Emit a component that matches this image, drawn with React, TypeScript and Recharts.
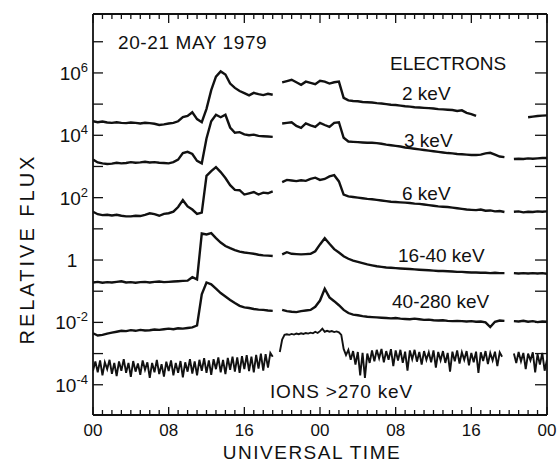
import { Line, LineChart, XAxis, YAxis } from 'recharts'

const FONT = '"Liberation Sans", Arial, sans-serif'

// sampling grids (hours UT from 00 on 20 May)
const HOURS = Array.from({ length: 97 }, (_, i) => i / 2)
const ION_HOURS = Array.from({ length: 193 }, (_, i) => i / 4)

// log10 of relative flux, every half hour, null = data gap
const E2_KEV = [
  4.45, 4.42, 4.44, 4.41, 4.40, 4.42, 4.40, 4.39,
  4.41, 4.40, 4.38, 4.40, 4.39, 4.37, 4.33, 4.35,
  4.38, 4.40, 4.45, 4.58, 4.62, 4.74, 4.52, 4.42,
  4.85, 5.45, 5.88, 6.05, 5.95, 5.66, 5.52, 5.42,
  5.35, 5.28, 5.36, 5.32, 5.29, 5.33, 5.30, null,
  5.70, 5.74, 5.78, 5.70, 5.62, 5.72, 5.68, 5.64,
  5.75, 5.72, 5.66, 5.70, 5.72, 5.20, 5.12, 5.10,
  5.09, 5.07, 5.06, 5.05, 5.03, 5.02, 5.00, 4.98,
  4.97, 4.95, 4.93, 4.92, 4.90, 4.89, 4.88, 4.87,
  4.86, 4.84, 4.83, 4.82, 4.81, 4.78, 4.80, 4.72,
  4.68, 4.62, null, null, null, null, null, null,
  null, null, null, null, 4.58, 4.60, 4.62, 4.63,
  4.64,
]

const E3_KEV = [
  3.22, 3.13, 3.10, 3.08, 3.09, 3.12, 3.10, 3.11,
  3.14, 3.12, 3.13, 3.15, 3.13, 3.14, 3.12, 3.11,
  3.10, 3.14, 3.22, 3.43, 3.47, 3.40, 3.18, 3.10,
  3.90, 4.45, 4.66, 4.58, 4.66, 4.25, 4.08, 4.10,
  4.03, 4.00, 4.02, 3.98, 3.97, 3.96, 3.95, null,
  4.38, 4.40, 4.42, 4.30, 4.24, 4.38, 4.32, 4.27,
  4.40, 4.33, 4.27, 4.40, 4.42, 3.92, 3.80, 3.79,
  3.78, 3.77, 3.76, 3.76, 3.75, 3.73, 3.70, 3.68,
  3.66, 3.64, 3.61, 3.59, 3.57, 3.55, 3.53, 3.51,
  3.49, 3.47, 3.45, 3.43, 3.42, 3.40, 3.39, 3.38,
  3.37, 3.37, 3.38, 3.42, 3.44, 3.38, 3.32, 3.30,
  null, 3.24, 3.25, 3.24, 3.26, 3.25, 3.26, 3.27,
  3.27,
]

const E6_KEV = [
  1.55, 1.47, 1.44, 1.45, 1.43, 1.45, 1.42, 1.40,
  1.40, 1.42, 1.41, 1.45, 1.50, 1.47, 1.42, 1.48,
  1.50, 1.55, 1.70, 1.92, 1.72, 1.62, 1.48, 1.52,
  2.70, 2.85, 2.98, 2.82, 2.63, 2.40, 2.25, 2.24,
  2.10, 2.14, 2.18, 2.10, 2.16, 2.14, 2.20, null,
  2.50, 2.57, 2.55, 2.53, 2.56, 2.54, 2.60, 2.64,
  2.57, 2.60, 2.68, 2.72, 2.52, 2.10, 2.04, 2.02,
  2.00, 1.98, 1.96, 1.95, 1.93, 1.91, 1.89, 1.87,
  1.86, 1.85, 1.84, 1.83, 1.81, 1.80, 1.78, 1.76,
  1.74, 1.72, 1.71, 1.70, 1.68, 1.66, 1.64, 1.62,
  1.61, 1.60, 1.62, 1.58, 1.59, 1.56, 1.57, 1.54,
  null, 1.55, 1.56, 1.53, 1.55, 1.54, 1.56, 1.55,
  1.56,
]

const E16_40_KEV = [
  -0.72, -0.70, -0.73, -0.71, -0.72, -0.70, -0.68, -0.72,
  -0.71, -0.73, -0.71, -0.70, -0.72, -0.70, -0.69, -0.71,
  -0.70, -0.69, -0.68, -0.67, -0.66, -0.55, -0.62, 0.85,
  0.82, 0.86, 0.70, 0.56, 0.45, 0.38, 0.32, 0.27,
  0.24, 0.22, 0.20, 0.17, 0.15, 0.14, 0.13, null,
  0.18, 0.25, 0.20, 0.19, 0.18, 0.19, 0.20, 0.28,
  0.50, 0.70, 0.52, 0.35, 0.24, 0.12, 0.04, -0.02,
  -0.06, -0.10, -0.14, -0.17, -0.20, -0.22, -0.24, -0.25,
  -0.26, -0.27, -0.28, -0.29, -0.30, -0.31, -0.32, -0.33,
  -0.34, -0.35, -0.35, -0.36, -0.37, -0.38, -0.38, -0.39,
  -0.40, -0.40, -0.41, -0.41, -0.42, -0.41, -0.42, -0.42,
  null, -0.42, -0.43, -0.42, -0.43, -0.42, -0.43, -0.42,
  -0.44,
]

const E40_280_KEV = [
  -2.35, -2.42, -2.40, -2.36, -2.33, -2.30, -2.27, -2.28,
  -2.25, -2.27, -2.24, -2.26, -2.25, -2.23, -2.24, -2.22,
  -2.20, -2.22, -2.19, -2.20, -2.18, -2.16, -2.10, -1.10,
  -0.72, -0.78, -0.92, -1.06, -1.17, -1.28, -1.38, -1.47,
  -1.52, -1.54, -1.57, -1.59, -1.60, -1.62, -1.63, null,
  -1.60, -1.64, -1.66, -1.67, -1.64, -1.62, -1.60, -1.50,
  -1.30, -0.92, -1.20, -1.32, -1.45, -1.60, -1.70, -1.75,
  -1.77, -1.80, -1.82, -1.83, -1.84, -1.85, -1.86, -1.87,
  -1.86, -1.88, -1.89, -1.90, -1.88, -1.90, -1.92, -1.91,
  -1.93, -1.94, -1.93, -1.95, -1.96, -1.95, -1.96, -1.97,
  -1.96, -1.98, -1.97, -2.00, -2.15, -1.98, -1.94, -1.95,
  null, -1.96, -1.97, -1.95, -1.98, -1.96, -1.99, -1.97,
  -1.98,
]

// ions > 270 keV, every quarter hour (noisy trace)
const IONS_270_KEV = [
  -3.55, -3.25, -3.60, -3.22, -3.70, -3.28, -3.50, -3.20,
  -3.65, -3.30, -3.72, -3.25, -3.55, -3.18, -3.62, -3.30,
  -3.75, -3.24, -3.58, -3.32, -3.68, -3.22, -3.52, -3.28,
  -3.78, -3.30, -3.60, -3.20, -3.66, -3.34, -3.74, -3.26,
  -3.56, -3.22, -3.70, -3.30, -3.62, -3.24, -3.76, -3.28,
  -3.58, -3.18, -3.64, -3.25, -3.70, -3.20, -3.55, -3.15,
  -3.62, -3.22, -3.68, -3.18, -3.50, -3.12, -3.60, -3.20,
  -3.66, -3.14, -3.52, -3.10, -3.58, -3.12, -3.62, -3.08,
  -3.50, -3.05, -3.56, -3.10, -3.60, -3.04, -3.48, -3.00,
  -3.55, -3.02, -3.45, -2.98, -3.10, null, null, -2.95,
  -2.55, -2.40, -2.38, -2.40, -2.37, -2.39, -2.36, -2.38,
  -2.35, -2.37, -2.34, -2.36, -2.33, -2.35, -2.30, -2.34,
  -2.28, -2.20, -2.30, -2.27, -2.30, -2.28, -2.31, -2.29,
  -2.32, -2.40, -2.85, -3.05, -2.88, -3.20, -2.92, -3.35,
  -2.95, -3.70, -2.98, -3.78, -3.00, -3.30, -2.90, -3.25,
  -2.88, -3.15, -2.85, -3.28, -2.92, -3.20, -2.86, -3.40,
  -2.90, -3.22, -2.88, -3.30, -2.94, -3.55, -2.90, -3.18,
  -2.88, -3.26, -2.95, -3.35, -2.92, -3.20, -2.96, -3.28,
  -2.90, -3.45, -2.95, -3.22, -2.92, -3.30, -2.98, -3.58,
  -2.94, -3.25, -2.90, -3.32, -2.96, -3.20, -2.92, -3.38,
  -2.98, -3.28, -2.94, -3.62, -2.96, -3.24, -2.92, -3.34,
  -2.98, -3.22, -2.94, -3.40, -2.96, -3.10, null, null,
  null, null, -3.00, -3.30, -2.95, -3.25, -2.98, -3.50,
  -3.00, -3.22, -2.96, -3.60, -3.02, -3.35, -2.98, -3.55,
  -3.20,
]

const X_TICKS = Array.from({ length: 49 }, (_, i) => i)
const X_LABELS: Record<number, string> = { 0: '00', 8: '08', 16: '16', 24: '00', 32: '08', 40: '16', 48: '00' }
const Y_TICKS = [1e-4, 1e-3, 1e-2, 1e-1, 1, 1e1, 1e2, 1e3, 1e4, 1e5, 1e6, 1e7]
const Y_LABELLED = [-4, -2, 0, 2, 4, 6]
const Y_DOMAIN = [Math.pow(10, -4.97), Math.pow(10, 7.89)]

const toFlux = (v: number | null) => (v == null ? null : Math.pow(10, v))

const electronData = HOURS.map((t, i) => ({
  t,
  e2: toFlux(E2_KEV[i]),
  e3: toFlux(E3_KEV[i]),
  e6: toFlux(E6_KEV[i]),
  e16: toFlux(E16_40_KEV[i]),
  e40: toFlux(E40_280_KEV[i]),
}))

const ionData = ION_HOURS.map((t, i) => ({ t, ion: toFlux(IONS_270_KEV[i]) }))

const INK = '#111'

function BottomTick({ x, y, payload }: any) {
  const v = payload.value
  const major = v % 8 === 0
  return (
    <g>
      <line x1={x} x2={x} y1={y} y2={y - (major ? 8 : 5)} stroke={INK} strokeWidth={1.3} />
      {major && (
        <text x={x} y={y + 21} textAnchor="middle" fontSize={17} fontFamily={FONT} fill={INK}>
          {X_LABELS[v]}
        </text>
      )}
    </g>
  )
}

function TopTick({ x, y, payload }: any) {
  const major = payload.value % 8 === 0
  return <line x1={x} x2={x} y1={y} y2={y + (major ? 9 : 5)} stroke={INK} strokeWidth={1.3} />
}

function LeftTick({ x, y, payload }: any) {
  const e = Math.round(Math.log10(payload.value))
  const labelled = Y_LABELLED.includes(e)
  return (
    <g>
      <line x1={x} x2={x + 10} y1={y} y2={y} stroke={INK} strokeWidth={1.3} />
      {labelled && e === 0 && (
        <text x={x - 21} y={y + 7} textAnchor="middle" fontSize={19} fontFamily={FONT} fill={INK}>
          1
        </text>
      )}
      {labelled && e !== 0 && (
        <text x={x - 5} y={y + 7} textAnchor="end" fontSize={19} fontFamily={FONT} fill={INK}>
          10
          <tspan dy={-8} fontSize={13}>
            {e}
          </tspan>
        </text>
      )}
    </g>
  )
}

function RightTick({ x, y }: any) {
  return <line x1={x} x2={x - 12} y1={y} y2={y} stroke={INK} strokeWidth={1.3} />
}

const frame = { stroke: INK, strokeWidth: 1.8 }

const lineProps = {
  type: 'linear' as const,
  stroke: INK,
  strokeWidth: 2.4,
  dot: false,
  connectNulls: false,
  isAnimationActive: false,
}

const label = { fontFamily: FONT, fontSize: 19, fill: INK }

export default function App() {
  return (
    <div style={{ position: 'absolute', left: 0, top: 0, width: 559, height: 467, background: '#fff' }}>
      <LineChart
        width={559}
        height={467}
        data={electronData}
        margin={{ top: 13, right: 11, bottom: 51, left: 92 }}
      >
        <XAxis
          dataKey="t"
          type="number"
          domain={[0, 48]}
          ticks={X_TICKS}
          interval={0}
          height={1}
          tickSize={0}
          tickMargin={0}
          tickLine={false}
          axisLine={frame}
          tick={(p: any) => <BottomTick {...p} />}
          allowDataOverflow
        />
        <XAxis
          xAxisId="top"
          orientation="top"
          dataKey="t"
          type="number"
          domain={[0, 48]}
          ticks={X_TICKS}
          interval={0}
          height={1}
          tickSize={0}
          tickMargin={0}
          tickLine={false}
          axisLine={frame}
          tick={(p: any) => <TopTick {...p} />}
          allowDataOverflow
        />
        <YAxis
          type="number"
          scale="log"
          domain={Y_DOMAIN}
          ticks={Y_TICKS}
          interval={0}
          width={1}
          tickSize={0}
          tickMargin={0}
          tickLine={false}
          axisLine={frame}
          tick={(p: any) => <LeftTick {...p} />}
          allowDataOverflow
        />
        <YAxis
          yAxisId="right"
          orientation="right"
          type="number"
          scale="log"
          domain={Y_DOMAIN}
          ticks={Y_TICKS}
          interval={0}
          width={1}
          tickSize={0}
          tickMargin={0}
          tickLine={false}
          axisLine={frame}
          tick={(p: any) => <RightTick {...p} />}
          allowDataOverflow
        />
        <Line dataKey="e2" {...lineProps} />
        <Line dataKey="e3" {...lineProps} />
        <Line dataKey="e6" {...lineProps} />
        <Line dataKey="e16" {...lineProps} />
        <Line dataKey="e40" {...lineProps} />
        <Line data={ionData} dataKey="ion" {...lineProps} strokeWidth={1.9} />
      </LineChart>
      <svg
        width={559}
        height={467}
        style={{ position: 'absolute', left: 0, top: 0, pointerEvents: 'none' }}
      >
        <text x={118} y={49} {...label} letterSpacing={0.6}>20-21 MAY 1979</text>
        <text x={390} y={70} {...label}>ELECTRONS</text>
        <text x={402} y={100} {...label}>2 keV</text>
        <text x={404} y={147} {...label}>3 keV</text>
        <text x={402} y={200} {...label}>6 keV</text>
        <text x={398} y={262} {...label}>16-40 keV</text>
        <text x={392} y={308} {...label}>40-280 keV</text>
        <text x={270} y={398} {...label} letterSpacing={0.8}>IONS &gt;270 keV</text>
        <text x={312} y={459} textAnchor="middle" fontFamily={FONT} fontSize={19} fill={INK} letterSpacing={1.5}>
          UNIVERSAL TIME
        </text>
        <text
          x={34}
          y={249}
          transform="rotate(-90 34 249)"
          textAnchor="middle"
          fontFamily={FONT}
          fontSize={20}
          fill={INK}
          letterSpacing={3}
        >
          RELATIVE FLUX
        </text>
      </svg>
    </div>
  )
}
